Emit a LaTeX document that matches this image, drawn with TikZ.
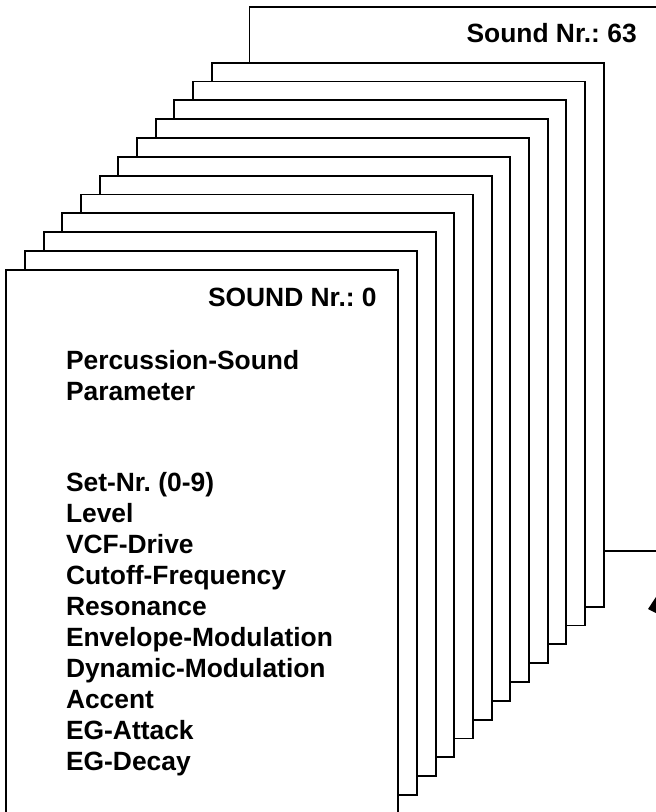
\documentclass[tikz,border=0pt]{standalone}
\usepackage{fontspec}
\setmainfont{Liberation Sans}
\usetikzlibrary{arrows.meta}
\frenchspacing
\begin{document}
\begin{tikzpicture}[x=1pt,y=-1pt,
  card/.style={draw=black, fill=white, line width=1.8pt, anchor=north west,
    minimum width=392pt, minimum height=544pt, inner sep=0pt, outer sep=0pt},
  lbl/.style={font=\fontsize{26.4}{31}\selectfont\bfseries\frenchspacing, inner sep=0pt, outer sep=0pt},
  pointer/.style={line width=1.8pt, -{Triangle[length=16pt,width=28pt]}},
]
\useasboundingbox (0,0) rectangle (656,812);
\clip (0,0) rectangle (656,812);
% rearmost card (Sound Nr. 63)
\node[card, minimum width=430pt] (topcard) at (249.4,6.7) {};
% stack of cards, back to front
\foreach \i in {11,...,0} {
  \node[card] (c\i) at ({6.3+18.67*\i},{269.7-18.82*\i}) {};
}
% labels
\node[lbl, anchor=base east] (t63) at (636.7,42.7) {Sound Nr.: 63};
\node[lbl, anchor=base east] (t0) at (376.7,306) {SOUND Nr.: 0};
\node[lbl, anchor=base west] (p1) at (66,369.3) {Percussion-Sound};
\node[lbl, anchor=base west] (p2) at (66,400.5) {Parameter};
\foreach \t [count=\k from 0] in {Set-Nr. (0-9),Level,VCF-Drive,Cutoff-Frequency,Resonance,Envelope-Modulation,Dynamic-Modulation,Accent,EG-Attack,EG-Decay} {
  \node[lbl, anchor=base west] (l\k) at (66,{491.7+31*\k}) {\t};
}
% arrow entering from the right
\coordinate (arrowfrom) at (712,592);
\coordinate (arrowtip) at (648,609);
\draw[pointer] (arrowfrom) -- (arrowtip);
\end{tikzpicture}
\end{document}
